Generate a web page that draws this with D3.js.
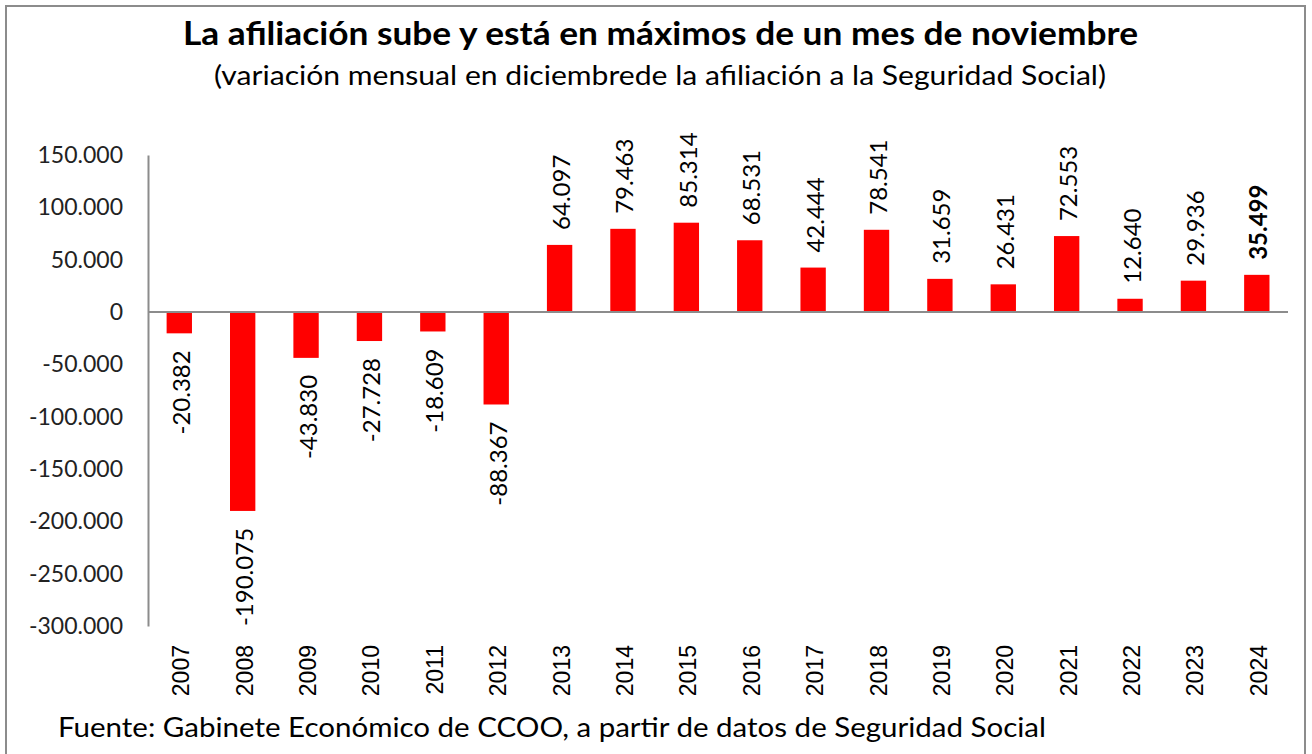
<!DOCTYPE html>
<html><head><meta charset="utf-8">
<script src="https://cdn.jsdelivr.net/npm/d3@7"></script>
<style>body{margin:0;background:#fff}svg{display:block}</style>
</head><body>
<svg id="c" width="1312" height="754"></svg>
<script>
const years = ["2007","2008","2009","2010","2011","2012","2013","2014","2015","2016","2017","2018","2019","2020","2021","2022","2023","2024"];
const values = [-20382,-190075,-43830,-27728,-18609,-88367,64097,79463,85314,68531,42444,78541,31659,26431,72553,12640,29936,35499];
const yTicks = [150000,100000,50000,0,-50000,-100000,-150000,-200000,-250000,-300000];
const titleText = "La afiliación sube y está en máximos de un mes de noviembre";
const subtitleText = "(variación mensual en diciembrede la afiliación a la Seguridad Social)";
const sourceText = "Fuente: Gabinete Económico de CCOO, a partir de datos de Seguridad Social";

const loc = d3.formatLocale({decimal:",", thousands:".", grouping:[3], currency:["","€"], minus:"-"});
const fmt = loc.format(",d");
const FONT = "Lato, 'Open Sans', sans-serif";

const svg = d3.select("#c");
svg.append("rect").attr("x",6).attr("y",6).attr("width",1299).attr("height",760)
  .attr("fill","#fff").attr("stroke","#8c8c8c").attr("stroke-width",2);

const x = d3.scaleBand().domain(years).range([147.6,1288.5]).paddingInner(0.6).paddingOuter(0.3);
const y = d3.scaleLinear().domain([-300000,150000]).range([626,155]);

svg.append("text").attr("x",183).attr("y",45)
  .attr("textLength",955).attr("lengthAdjust","spacingAndGlyphs")
  .attr("font-family",FONT).attr("font-weight","bold").attr("font-size",32).attr("fill","#000").text(titleText);
svg.append("text").attr("x",214).attr("y",85)
  .attr("textLength",892).attr("lengthAdjust","spacingAndGlyphs")
  .attr("font-family",FONT).attr("font-size",27).attr("fill","#000").text(subtitleText);
svg.append("text").attr("x",58).attr("y",737)
  .attr("textLength",988).attr("lengthAdjust","spacingAndGlyphs")
  .attr("font-family",FONT).attr("font-size",27).attr("fill","#000").text(sourceText);

// y axis
const yAxis = d3.axisLeft(y).tickValues(yTicks).tickSize(0).tickPadding(25).tickFormat(d=>d===0?"0":fmt(d));
const gy = svg.append("g").attr("transform","translate(148,0)").call(yAxis);
gy.select(".domain").attr("stroke","#8c8c8c").attr("stroke-width",2);
gy.selectAll("text").attr("font-family",FONT).attr("font-size",23).attr("fill","#222");

// bars
svg.append("g").selectAll("rect").data(values).join("rect")
  .attr("x",(d,i)=>x(years[i])).attr("width",x.bandwidth())
  .attr("y",d=>y(Math.max(0,d))).attr("height",d=>Math.abs(y(d)-y(0)))
  .attr("fill","#ff0000");

// zero line
svg.append("line").attr("x1",148).attr("x2",1288).attr("y1",y(0)).attr("y2",y(0))
  .attr("stroke","#8c8c8c").attr("stroke-width",2);

// data labels
svg.append("g").selectAll("text").data(values).join("text")
  .attr("transform",(d,i)=>{
    const cx = x(years[i]) + x.bandwidth()/2 + 1;
    const yy = d>=0 ? y(d)-15 : y(d)+17;
    return `translate(${cx},${yy}) rotate(-90)`;
  })
  .attr("text-anchor",d=>d>=0?"start":"end")
  .attr("dominant-baseline","central")
  .attr("font-family",FONT).attr("font-size",24)
  .attr("font-weight",(d,i)=>i===values.length-1?"bold":"normal")
  .attr("fill","#000").text(d=>fmt(d));

// x labels
svg.append("g").selectAll("text").data(years).join("text")
  .attr("transform",d=>`translate(${x(d)+x.bandwidth()/2+2},645) rotate(-90)`)
  .attr("text-anchor","end").attr("dominant-baseline","central")
  .attr("font-family","'Liberation Sans', Arial, sans-serif").attr("font-size",23)
  .attr("fill","#000").text(d=>d);
</script>
</body></html>
